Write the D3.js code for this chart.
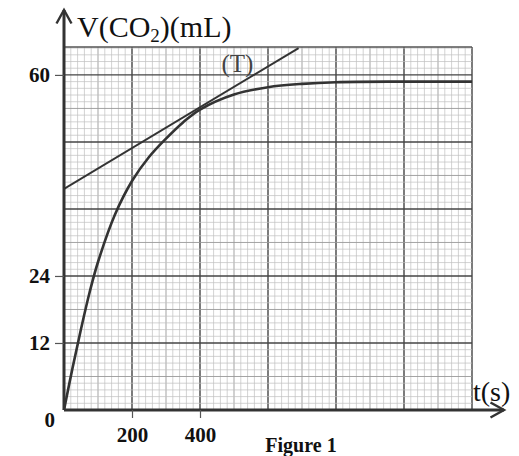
<!DOCTYPE html>
<html>
<head>
<meta charset="utf-8">
<script src="https://cdn.jsdelivr.net/npm/d3@7"></script>
<style>
  body { margin: 0; background: #fff; }
  text { font-family: "Liberation Serif", "DejaVu Serif", serif; fill: #111; }
</style>
</head>
<body>
<div id="figure"></div>
<script>
// Data
// ===========================
var curveT = [0, 25, 50, 75, 100, 150, 200, 250, 300, 350, 400, 500, 600, 700, 800, 1000, 1200];
var curveV = [0, 7.5, 14.5, 21, 26.5, 35, 41, 45.3, 48.6, 51.5, 53.8, 56.5, 57.8, 58.4, 58.7, 58.8, 58.8];

// tangent (T) : two points on the line
var tanT = [0, 690];
var tanV = [39.6, 64.8];

var yTicks = [0, 12, 24, 60];
var xTicks = [200, 400];

// Canvas
// ===========================
var width = 519;
var height = 456;

var svg = d3.select("#figure")
  .append("svg")
  .attr("width", width)
  .attr("height", height);

// Scales (200 s and 12 mL take the same length on the paper)
var xScale = d3.scaleLinear().domain([0, 1200]).range([64, 472]);
var yScale = d3.scaleLinear().domain([0, 65]).range([410, 47]);

// Graph paper
// ===========================
var grid = svg.append("g").attr("class", "grid");

// minor lines every 20 s / 1.2 mL, half lines every 100 s / 6 mL
d3.range(0, 1201, 20).forEach(function(t) {
  var major = t % 200 === 0;
  var half = t % 100 === 0;
  grid.append("line")
    .attr("x1", xScale(t)).attr("x2", xScale(t))
    .attr("y1", yScale(0)).attr("y2", yScale(65))
    .attr("stroke", major ? "#444" : half ? "#999" : "#c0c0c0")
    .attr("stroke-width", major ? 1.4 : half ? 0.9 : 0.7);
});

d3.range(0, 65, 1.2).forEach(function(v, i) {
  var major = i % 10 === 0;
  var half = i % 5 === 0;
  grid.append("line")
    .attr("x1", xScale(0)).attr("x2", xScale(1200))
    .attr("y1", yScale(v)).attr("y2", yScale(v))
    .attr("stroke", major ? "#444" : half ? "#999" : "#c0c0c0")
    .attr("stroke-width", major ? 1.4 : half ? 0.9 : 0.7);
});

// top border of the paper
grid.append("line")
  .attr("x1", xScale(0)).attr("x2", xScale(1200))
  .attr("y1", yScale(65)).attr("y2", yScale(65))
  .attr("stroke", "#555").attr("stroke-width", 1.4);

// Curve and tangent
// ===========================
svg.append("clipPath").attr("id", "paper")
  .append("rect")
  .attr("x", xScale(0)).attr("y", yScale(65))
  .attr("width", xScale(1200) - xScale(0))
  .attr("height", yScale(0) - yScale(65));

var line = d3.line()
  .x(function(d) { return xScale(d[0]); })
  .y(function(d) { return yScale(d[1]); });

svg.append("path")
  .datum(d3.zip(tanT, tanV))
  .attr("d", line)
  .attr("clip-path", "url(#paper)")
  .attr("fill", "none")
  .attr("stroke", "#333")
  .attr("stroke-width", 2);

svg.append("path")
  .datum(d3.zip(curveT, curveV))
  .attr("d", line.curve(d3.curveCatmullRom.alpha(0.5)))
  .attr("fill", "none")
  .attr("stroke", "#333")
  .attr("stroke-width", 2.6);

svg.append("text")
  .attr("x", xScale(510)).attr("y", 72)
  .attr("text-anchor", "middle")
  .attr("font-size", 25)
  .style("fill", "#444")
  .text("(T)");

// Axes with arrows
// ===========================
svg.append("defs").append("marker")
  .attr("id", "arrow")
  .attr("viewBox", "0 0 12 12")
  .attr("refX", 10).attr("refY", 6)
  .attr("markerWidth", 6).attr("markerHeight", 6)
  .attr("markerUnits", "strokeWidth")
  .attr("orient", "auto")
  .append("path")
  .attr("d", "M1,1 L10,6 L1,11")
  .attr("fill", "none")
  .attr("stroke", "#333")
  .attr("stroke-width", 1.6);

svg.append("line")
  .attr("x1", xScale(0)).attr("y1", yScale(0))
  .attr("x2", 504).attr("y2", yScale(0))
  .attr("stroke", "#333").attr("stroke-width", 3)
  .attr("marker-end", "url(#arrow)");

svg.append("line")
  .attr("x1", xScale(0)).attr("y1", yScale(0))
  .attr("x2", xScale(0)).attr("y2", 10)
  .attr("stroke", "#333").attr("stroke-width", 3)
  .attr("marker-end", "url(#arrow)");

// Tick labels
var yAxis = d3.axisLeft(yScale)
  .tickValues(yTicks)
  .tickSize(9)
  .tickPadding(5)
  .tickFormat(d3.format("d"));

var gy = svg.append("g")
  .attr("transform", "translate(" + xScale(0) + ",0)")
  .call(yAxis);
gy.select(".domain").remove();
gy.selectAll(".tick line").attr("stroke", "#555").attr("stroke-width", 1.2);
gy.selectAll(".tick text")
  .attr("font-family", "Liberation Serif")
  .attr("font-weight", "bold")
  .attr("font-size", 21)
  .style("fill", "#111");
gy.selectAll(".tick").filter(function(d) { return d === 0; })
  .select("line").remove();
gy.selectAll(".tick").filter(function(d) { return d === 0; })
  .select("text").attr("x", -9).attr("dy", "0.8em");

var xAxis = d3.axisBottom(xScale)
  .tickValues(xTicks)
  .tickSize(8)
  .tickPadding(9)
  .tickFormat(d3.format("d"));

var gx = svg.append("g")
  .attr("transform", "translate(0," + yScale(0) + ")")
  .call(xAxis);
gx.select(".domain").remove();
gx.selectAll(".tick line").attr("stroke", "#555").attr("stroke-width", 1.2);
gx.selectAll(".tick text")
  .attr("font-family", "Liberation Serif")
  .attr("font-weight", "bold")
  .attr("font-size", 21)
  .style("fill", "#111");

// Axis titles
// ===========================
var yTitle = svg.append("text")
  .attr("x", 77).attr("y", 37)
  .attr("font-size", 30);
yTitle.append("tspan").text("V(CO");
yTitle.append("tspan").attr("font-size", 19).attr("dy", 5).text("2");
yTitle.append("tspan").attr("dy", -5).text(")(mL)");

svg.append("text")
  .attr("x", 473).attr("y", 401)
  .attr("font-size", 28)
  .text("t(s)");

svg.append("text")
  .attr("x", 301).attr("y", 452)
  .attr("text-anchor", "middle")
  .attr("font-weight", "bold")
  .attr("font-size", 20)
  .text("Figure 1");
</script>
</body>
</html>
